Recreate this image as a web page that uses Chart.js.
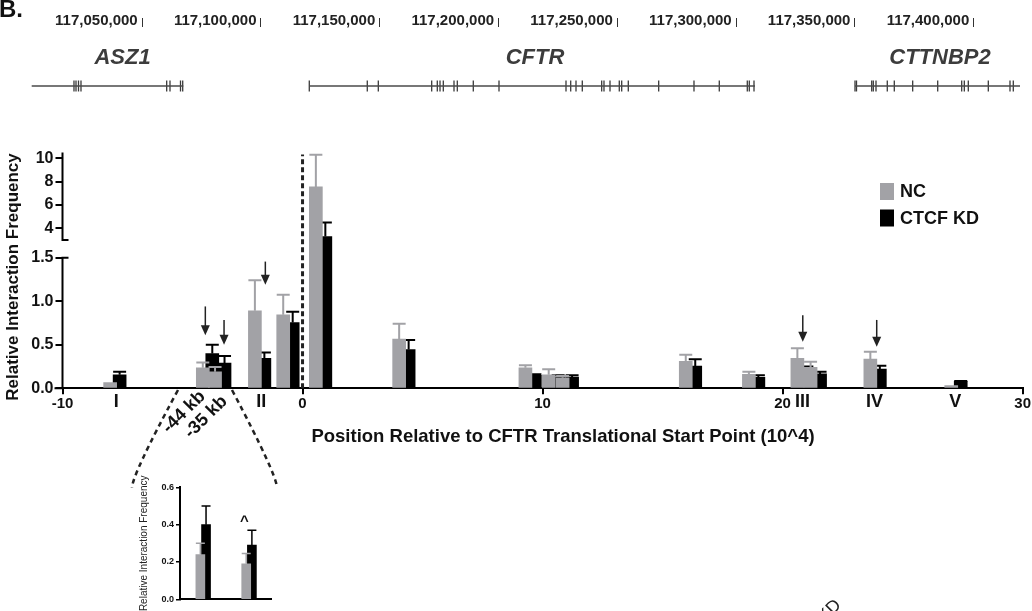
<!DOCTYPE html>
<html>
<head>
<meta charset="utf-8">
<script src="https://cdn.jsdelivr.net/npm/chart.js@4.4.1/dist/chart.umd.min.js"></script>
<style>
  html, body { margin: 0; padding: 0; background: #fff; }
  #wrap { position: relative; width: 1032px; height: 611px; overflow: hidden; }
  canvas { position: absolute; }
</style>
</head>
<body>
<div id="wrap">
  <canvas id="genes" width="1032" height="100" style="left:0;top:0"></canvas>
  <canvas id="main" width="1032" height="511" style="left:0;top:100px"></canvas>
  <canvas id="inset" width="150" height="141" style="left:134px;top:470px"></canvas>
</div>
<script>
// genome track (bp)
const genomeTicks = [117050000, 117100000, 117150000, 117200000, 117250000, 117300000, 117350000, 117400000];
const geneNames = ['ASZ1', 'CFTR', 'CTTNBP2'];
const geneStarts = [117003700, 117120540, 117350230];
const geneEnds = [117067510, 117308140, 117419680];
const geneLabelPos = [117041920, 117215540, 117386000];
const asz1Exons = [117021500, 117022350, 117023400, 117024450, 117060520, 117061910, 117066330, 117067260];
const cftrExons = [117120540, 117144950, 117149590, 117172060, 117174420, 117175560, 117176950, 117181450,
    117182840, 117189570, 117200390, 117228590, 117230570, 117232800, 117235450, 117243610, 117244580,
    117247110, 117251020, 117252030, 117254810, 117267600, 117282460, 117293110, 117304900, 117305740, 117307720];
const cttnbp2Exons = [117350230, 117350860, 117357260, 117357930, 117359070, 117363820, 117366770, 117374510,
    117385040, 117395140, 117396240, 117397920, 117406340, 117415470, 117416860];

// main 3C plot (position in 10^4 bp)
const lociPos = [-7.89, -4.03, -3.52, -1.86, -0.68, 0.68, 4.15, 9.41, 10.38, 10.96, 16.09, 18.72, 20.74, 21.29, 23.78, 27.15];
const ncValues = [0.065, 0.235, 0.19, 0.89, 0.845, 7.55, 0.565, 0.235, 0.155, 0.12, 0.31, 0.16, 0.345, 0.24, 0.335, 0.03];
const ncErrors = [0, 0.06, 0.055, 0.35, 0.23, 2.75, 0.175, 0.03, 0.065, 0.02, 0.075, 0.03, 0.115, 0.065, 0.085, 0];
const kdValues = [0.155, 0.40, 0.29, 0.345, 0.755, 3.3, 0.445, 0.15, 0.13, 0.13, 0.255, 0.125, 0.21, 0.165, 0.22, 0.08];
const kdErrors = [0.035, 0.10, 0.08, 0.065, 0.125, 1.2, 0.11, 0.012, 0.02, 0.02, 0.08, 0.025, 0.04, 0.025, 0.04, 0.005];
const yTicksMain = [0, 0.5, 1, 1.5, 4, 6, 8, 10];
const regionLabels = ['I', 'II', 'III', 'IV', 'V'];
const regionPos = [-7.76, -1.72, 20.83, 23.83, 27.19];
const arrowX = [-4.05, -3.27, -1.55, 20.84, 23.92];
const arrowFrom = [0.94, 0.785, 1.455, 0.84, 0.785];
const arrowTo = [0.61, 0.50, 1.19, 0.535, 0.478];

// inset
const insetSites = [1, 2];
const insetLabels = ['-44 kb', '-35 kb'];
const insetNC = [0.24, 0.19];
const insetNCErr = [0.06, 0.055];
const insetKD = [0.40, 0.29];
const insetKDErr = [0.10, 0.08];

const FONT = '"Liberation Sans", Arial, Helvetica, sans-serif';
const GRAY = '#a2a2a6';
const LOW_TOP = 1.5, HIGH_BOTTOM = 3, LOW_FRAC = 0.554, GAP_FRAC = 0.075;
Chart.defaults.font.family = FONT;

// y scale with a break between 1.5 and 3
class BrokenScale extends Chart.LinearScale {
    static id = 'broken';
    static defaults = Chart.LinearScale.defaults;
    getPixelForValue(value) {
        const h = this.bottom - this.top;
        let f;
        if (value <= LOW_TOP) {
            f = value / LOW_TOP * LOW_FRAC;
        } else if (value < HIGH_BOTTOM) {
            f = LOW_FRAC + (value - LOW_TOP) / (HIGH_BOTTOM - LOW_TOP) * GAP_FRAC;
        } else {
            f = LOW_FRAC + GAP_FRAC + (value - HIGH_BOTTOM) / (this.max - HIGH_BOTTOM) * (1 - LOW_FRAC - GAP_FRAC);
        }
        return this.bottom - f * h;
    }
    getValueForPixel(pixel) {
        const f = (this.bottom - pixel) / (this.bottom - this.top);
        if (f <= LOW_FRAC) return f / LOW_FRAC * LOW_TOP;
        if (f < LOW_FRAC + GAP_FRAC) return LOW_TOP + (f - LOW_FRAC) / GAP_FRAC * (HIGH_BOTTOM - LOW_TOP);
        return HIGH_BOTTOM + (f - LOW_FRAC - GAP_FRAC) / (1 - LOW_FRAC - GAP_FRAC) * (this.max - HIGH_BOTTOM);
    }
}
Chart.register(BrokenScale);

const errorBars = {
    id: 'errorBars',
    afterDatasetDraw(chart, args) {
        const ds = chart.data.datasets[args.index];
        if (!ds.errors) return;
        const ys = chart.scales[args.meta.yAxisID];
        const ctx = chart.ctx;
        ctx.save();
        ctx.strokeStyle = ds.backgroundColor;
        ctx.lineWidth = ds.errorWidth || 2;
        args.meta.data.forEach(function (bar, i) {
            const err = ds.errors[i];
            if (!err) return;
            const top = ys.getPixelForValue(ds.data[i].y + err);
            const half = bar.width / 2;
            ctx.beginPath();
            ctx.moveTo(bar.x, bar.y);
            ctx.lineTo(bar.x, top);
            ctx.moveTo(bar.x - half, top);
            ctx.lineTo(bar.x + half, top);
            ctx.stroke();
        });
        ctx.restore();
    }
};

// ---------- gene track ----------
const genomeLabels = {
    id: 'genomeLabels',
    afterDraw(chart) {
        const ctx = chart.ctx;
        const xs = chart.scales.x;
        ctx.save();
        ctx.fillStyle = '#111';
        ctx.font = 'bold 24px ' + FONT;
        ctx.textAlign = 'left';
        ctx.textBaseline = 'alphabetic';
        ctx.fillText('B.', -1, 17);
        ctx.font = 'bold 15px ' + FONT;
        ctx.textAlign = 'right';
        ctx.textBaseline = 'middle';
        ctx.strokeStyle = '#333';
        ctx.lineWidth = 1;
        genomeTicks.forEach(function (t) {
            const px = xs.getPixelForValue(t);
            ctx.fillStyle = '#222';
            ctx.fillText(t.toLocaleString('en-US'), px - 4, 21);
            ctx.beginPath();
            ctx.moveTo(Math.round(px) + 0.5, 18);
            ctx.lineTo(Math.round(px) + 0.5, 27);
            ctx.stroke();
        });
        ctx.font = 'italic bold 22px ' + FONT;
        ctx.textAlign = 'center';
        ctx.fillStyle = '#3c3c3c';
        geneNames.forEach(function (g, i) {
            ctx.fillText(g, xs.getPixelForValue(geneLabelPos[i]), 58);
        });
        ctx.restore();
    }
};

const exonSets = [asz1Exons, cftrExons, cttnbp2Exons];
const geneDatasets = [];
geneNames.forEach(function (g, i) {
    geneDatasets.push({
        label: g,
        data: [{x: geneStarts[i], y: 0}, {x: geneEnds[i], y: 0}],
        borderColor: '#4a4a4a',
        borderWidth: 1.5,
        pointRadius: 0
    });
    geneDatasets.push({
        label: g + ' exons',
        data: exonSets[i].map(x => ({x: x, y: 0})),
        showLine: false,
        pointStyle: 'line',
        pointRotation: 90,
        pointRadius: 5.5,
        pointBorderColor: '#3a3a3a',
        pointBorderWidth: 1.3
    });
});

new Chart(document.getElementById('genes'), {
    type: 'line',
    data: {datasets: geneDatasets},
    options: {
        responsive: false,
        animation: false,
        events: [],
        layout: {padding: 0, autoPadding: false},
        plugins: {legend: {display: false}, tooltip: {enabled: false}},
        scales: {
            x: {type: 'linear', display: false, min: 116990360, max: 117424730},
            y: {display: false, min: -0.163, max: 1}
        }
    },
    plugins: [genomeLabels]
});

// ---------- main chart ----------
const NC_SHIFT = 0.125, KD_SHIFT = 0.27;

const mainAnnotations = {
    id: 'mainAnnotations',
    afterDatasetsDraw(chart) {
        const ctx = chart.ctx;
        const area = chart.chartArea;
        const xs = chart.scales.x, ys = chart.scales.y;
        ctx.save();
        // dotted line at translational start
        const x0 = xs.getPixelForValue(0);
        ctx.strokeStyle = '#222';
        ctx.lineWidth = 3;
        ctx.setLineDash([5, 3]);
        ctx.beginPath();
        ctx.moveTo(x0, ys.getPixelForValue(0));
        ctx.lineTo(x0, area.top + 2);
        ctx.stroke();
        ctx.restore();
    },
    afterDraw(chart) {
        const ctx = chart.ctx;
        const area = chart.chartArea;
        const xs = chart.scales.x, ys = chart.scales.y;
        ctx.save();
        // broken y axis
        const ax = area.left;
        const y0 = ys.getPixelForValue(0);
        const yLow = ys.getPixelForValue(LOW_TOP);
        const yHigh = ys.getPixelForValue(HIGH_BOTTOM);
        ctx.strokeStyle = '#000';
        ctx.lineWidth = 2;
        ctx.beginPath();
        ctx.moveTo(ax, y0 + 1);
        ctx.lineTo(ax, yLow);
        ctx.moveTo(ax, yHigh);
        ctx.lineTo(ax, area.top);
        ctx.moveTo(ax - 1, yLow);
        ctx.lineTo(ax + 6, yLow);
        ctx.moveTo(ax - 1, yHigh);
        ctx.lineTo(ax + 6, yHigh);
        ctx.moveTo(ax - 8, y0);
        ctx.lineTo(ax, y0);
        ctx.stroke();

        // y axis title
        ctx.save();
        ctx.translate(13, 177);
        ctx.rotate(-Math.PI / 2);
        ctx.fillStyle = '#111';
        ctx.font = 'bold 17px ' + FONT;
        ctx.textAlign = 'center';
        ctx.textBaseline = 'middle';
        ctx.fillText('Relative Interaction Frequency', 0, 0);
        ctx.restore();

        // arrows
        ctx.strokeStyle = '#222';
        ctx.fillStyle = '#222';
        ctx.lineWidth = 1.5;
        arrowX.forEach(function (a, i) {
            const px = xs.getPixelForValue(a);
            const yTop = ys.getPixelForValue(arrowFrom[i]);
            const yTip = ys.getPixelForValue(arrowTo[i]);
            ctx.beginPath();
            ctx.moveTo(px, yTop);
            ctx.lineTo(px, yTip - 6);
            ctx.stroke();
            ctx.beginPath();
            ctx.moveTo(px, yTip);
            ctx.lineTo(px - 4.5, yTip - 10);
            ctx.lineTo(px + 4.5, yTip - 10);
            ctx.closePath();
            ctx.fill();
        });

        // region labels
        ctx.fillStyle = '#111';
        ctx.font = 'bold 18px ' + FONT;
        ctx.textAlign = 'center';
        ctx.textBaseline = 'middle';
        regionLabels.forEach(function (r, i) {
            ctx.fillText(r, xs.getPixelForValue(regionPos[i]), y0 + 14);
        });

        // x axis title
        ctx.font = 'bold 18.5px ' + FONT;
        ctx.fillText('Position Relative to CFTR Translational Start Point (10^4)', 563, 337);

        // diagonal site labels
        ctx.font = 'bold 18px ' + FONT;
        [[184, 312], [206, 317]].forEach(function (p, i) {
            ctx.save();
            ctx.translate(p[0], p[1]);
            ctx.rotate(-Math.PI / 4);
            ctx.fillText(insetLabels[i], 0, 0);
            ctx.restore();
        });

        // dashed connectors to the inset
        ctx.strokeStyle = '#222';
        ctx.lineWidth = 2.5;
        ctx.setLineDash([5, 4]);
        ctx.beginPath();
        ctx.moveTo(178, 290);
        ctx.quadraticCurveTo(132, 375, 132, 388);
        ctx.moveTo(232, 290);
        ctx.quadraticCurveTo(277, 375, 277, 388);
        ctx.stroke();
        ctx.setLineDash([]);

        // legend
        ctx.font = 'bold 18px ' + FONT;
        ctx.textAlign = 'left';
        chart.data.datasets.forEach(function (ds, i) {
            const ty = 91.5 + i * 26.5;
            ctx.fillStyle = ds.backgroundColor;
            ctx.fillRect(880, ty - 8.5, 14, 17);
            ctx.fillStyle = '#111';
            ctx.fillText(ds.label, 900, ty + 1);
        });

        // stray rotated text at the bottom edge
        ctx.save();
        ctx.translate(842, 506);
        ctx.rotate(-Math.PI / 4);
        ctx.font = '18px ' + FONT;
        ctx.fillStyle = '#222';
        ctx.textAlign = 'right';
        ctx.textBaseline = 'alphabetic';
        ctx.fillText('KD', 0, 0);
        ctx.restore();
        ctx.restore();
    }
};

new Chart(document.getElementById('main'), {
    type: 'bar',
    data: {
        datasets: [
            {
                label: 'NC',
                data: lociPos.map((p, i) => ({x: p - NC_SHIFT, y: ncValues[i]})),
                errors: ncErrors,
                backgroundColor: GRAY,
                grouped: false,
                barThickness: 13,
                borderWidth: 0
            },
            {
                label: 'CTCF KD',
                data: lociPos.map((p, i) => ({x: p + KD_SHIFT, y: kdValues[i]})),
                errors: kdErrors,
                backgroundColor: '#000000',
                grouped: false,
                barThickness: 13,
                borderWidth: 0
            }
        ]
    },
    options: {
        responsive: false,
        animation: false,
        events: [],
        layout: {padding: {top: 52.5, right: 9, left: 0, bottom: 0}},
        plugins: {legend: {display: false}, tooltip: {enabled: false}},
        scales: {
            x: {
                type: 'linear',
                min: -10,
                max: 30,
                offset: false,
                ticks: {stepSize: 10, color: '#111', font: {size: 15, weight: 'bold'}, padding: 1, maxRotation: 0, autoSkip: false},
                grid: {offset: false, drawOnChartArea: false, drawTicks: true, tickLength: 6, color: '#000', lineWidth: 2},
                border: {color: '#000', width: 2},
                afterFit: function (s) { s.height = 222.7; }
            },
            y: {
                type: 'broken',
                min: 0,
                max: 10.5,
                ticks: {
                    color: '#111',
                    font: {size: 16, weight: 'bold'},
                    padding: 2,
                    callback: v => v >= HIGH_BOTTOM ? String(v) : v.toFixed(1)
                },
                grid: {drawOnChartArea: false, drawTicks: true, tickLength: 7, color: '#000', lineWidth: 2},
                border: {display: false},
                afterBuildTicks: function (s) { s.ticks = yTicksMain.map(v => ({value: v})); },
                afterFit: function (s) { s.width = 62.5; }
            }
        }
    },
    plugins: [errorBars, mainAnnotations]
});

// ---------- inset ----------
const INSET_NC_SHIFT = 0.026, INSET_KD_SHIFT = 0.098;

const insetMarks = {
    id: 'insetMarks',
    afterDraw(chart) {
        const ctx = chart.ctx;
        const xs = chart.scales.x, ys = chart.scales.y;
        ctx.save();
        ctx.fillStyle = '#111';
        ctx.font = 'bold 15px ' + FONT;
        ctx.textAlign = 'center';
        ctx.textBaseline = 'alphabetic';
        ctx.fillText('^', xs.getPixelForValue(insetSites[1]) - 3, ys.getPixelForValue(0.44) + 9);
        ctx.restore();
    }
};

new Chart(document.getElementById('inset'), {
    type: 'bar',
    data: {
        datasets: [
            {
                label: 'NC',
                data: insetSites.map((s, i) => ({x: s - INSET_NC_SHIFT, y: insetNC[i]})),
                errors: insetNCErr,
                errorWidth: 1.5,
                backgroundColor: GRAY,
                grouped: false,
                barThickness: 9,
                borderWidth: 0
            },
            {
                label: 'CTCF KD',
                data: insetSites.map((s, i) => ({x: s + INSET_KD_SHIFT, y: insetKD[i]})),
                errors: insetKDErr,
                errorWidth: 1.5,
                backgroundColor: '#000000',
                grouped: false,
                barThickness: 9,
                borderWidth: 0
            }
        ]
    },
    options: {
        responsive: false,
        animation: false,
        events: [],
        layout: {padding: {top: 17.3, right: 12.3, left: 0, bottom: 0}},
        plugins: {legend: {display: false}, tooltip: {enabled: false}},
        scales: {
            x: {
                type: 'linear',
                min: 0.53,
                max: 2.53,
                offset: false,
                ticks: {display: false},
                grid: {display: false, offset: false},
                border: {color: '#000', width: 2},
                afterFit: function (s) { s.height = 11.7; }
            },
            y: {
                min: 0,
                max: 0.6,
                ticks: {stepSize: 0.2, color: '#111', font: {size: 9, weight: 'bold'}, padding: 2, callback: v => v.toFixed(1)},
                grid: {drawOnChartArea: false, drawTicks: true, tickLength: 4, color: '#000', lineWidth: 1.5},
                border: {color: '#000', width: 2},
                title: {display: true, text: 'Relative Interaction Frequency', color: '#222', font: {size: 10}, padding: {top: 4, bottom: 0}},
                afterFit: function (s) { s.width = 46; }
            }
        }
    },
    plugins: [errorBars, insetMarks]
});
</script>
</body>
</html>
